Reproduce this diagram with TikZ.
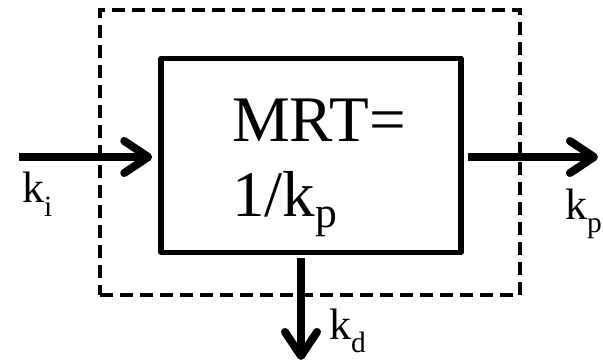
\documentclass[tikz,border=0pt]{standalone}
\usepackage{fontspec}
\setmainfont{Liberation Serif}
\usetikzlibrary{arrows.meta,positioning}
\newcommand{\lowsub}[2]{\raisebox{-#1}{\scalebox{0.67}{#2}}}
\tikzset{
    blockbox/.style={rectangle, draw=black, line width=5.5pt, line join=round, minimum width=300pt, minimum height=194pt},
    boxtext/.style={anchor=base west, inner sep=0pt, font=\fontsize{65}{75}\selectfont},
    sysbox/.style={rectangle, draw=black, line width=4.5pt, dash pattern=on 13pt off 7pt, minimum width=420pt, minimum height=285pt},
    flow/.style={line width=8pt, -{Straight Barb[length=24pt, width=32pt, line cap=round, line join=round]}},
    ratelabel/.style={anchor=base west, inner sep=0pt, font=\fontsize{44}{48}\selectfont},
}
\begin{document}
\begin{tikzpicture}[x=1pt, y=1pt]
    \useasboundingbox (0,0) rectangle (603,363);
    % system boundary
    \node[sysbox] (sys) at (310,210.5) {};
    % compartment
    \node[blockbox] (mrt) at (311,207.5) {};
    \node[boxtext] (mrtline1) at (232,221) {MRT=};
    \node[boxtext] (mrtline2) at (232,146) {1/k\lowsub{11pt}{p}};
    % in / out flows
    \coordinate (src) at (19,206);
    \coordinate (sink) at (598,206);
    \coordinate (drain) at (301,3);
    \draw[flow] (src) -- ([xshift=-6pt]mrt.west |- src);
    \draw[flow] ([xshift=4pt]mrt.east |- sink) -- (sink);
    \draw[flow] ([yshift=-3pt]mrt.south -| drain) -- (drain);
    % rate labels
    \node[ratelabel] (ki) at (22,160) {k\lowsub{14pt}{i}};
    \node[ratelabel] (kp) at (565,143) {k\lowsub{13pt}{p}};
    \node[ratelabel] (kd) at (329,23) {k\lowsub{13pt}{d}};
\end{tikzpicture}
\end{document}
